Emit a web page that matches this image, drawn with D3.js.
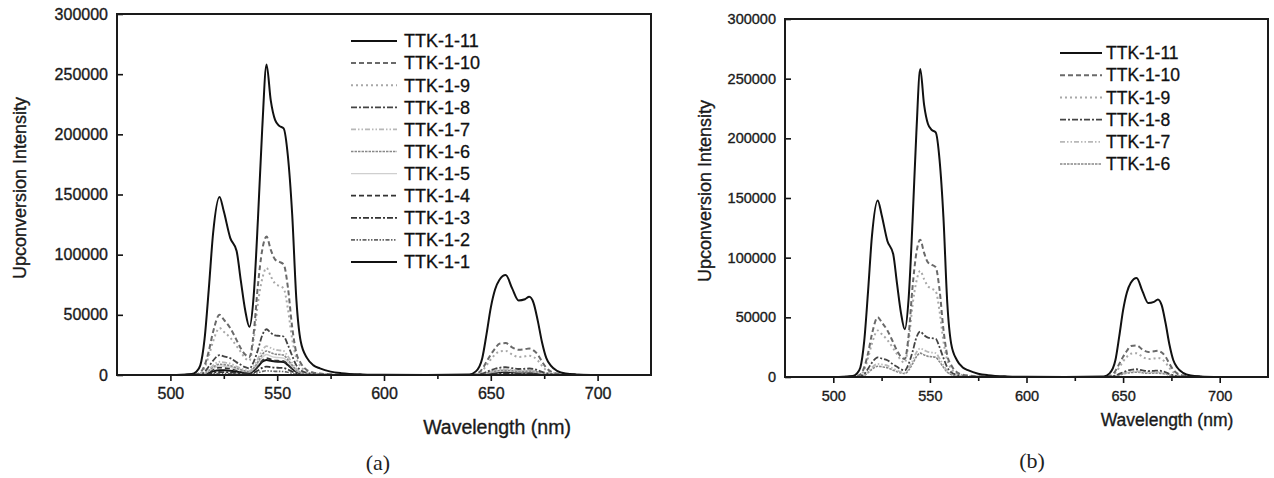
<!DOCTYPE html>
<html>
<head>
<meta charset="utf-8">
<script src="https://cdn.jsdelivr.net/npm/d3@7"></script>
<style>
  body { margin: 0; background: #fff; }
  svg { display: block; font-family: "Liberation Sans", Arial, sans-serif; }
</style>
</head>
<body>
<svg id="fig" width="1274" height="478"></svg>
<script>
// wavelength grid (nm), shared by every spectrum
const wavelength = [
  500, 505, 510, 512, 514, 516, 518, 520, 523, 525,
  528, 531, 533, 535, 537, 539, 541, 543, 545, 547,
  549, 551, 553, 555, 557, 559, 561, 564, 567, 570,
  575, 580, 590, 600, 620, 640, 643, 646, 648, 650,
  652, 654, 657, 660, 663, 666, 668, 670, 672, 674,
  676, 678, 681, 685, 690, 700
];

// upconversion intensity
const ttk11 = [
  0, 200, 800, 2500, 8000, 30000, 72000, 118000, 148000, 136000,
  114000, 103000, 78000, 54000, 40000, 66000, 130000, 205000, 258000, 228000,
  212000, 207000, 205000, 182000, 134000, 62000, 28000, 14000, 8000, 5500,
  2800, 1500, 500, 200, 100, 500, 3000, 14000, 34000, 56000,
  71000, 79000, 83000, 72000, 62000, 63000, 65000, 60000, 45000, 27000,
  14000, 8000, 3500, 1200, 500, 100
];
const ttk10 = [
  0, 100, 300, 600, 2000, 8000, 20000, 36000, 50000, 46000,
  39000, 29000, 22000, 17000, 15000, 35000, 75000, 104000, 115000, 104000,
  96000, 94000, 92000, 73000, 40000, 18000, 10000, 4000, 2000, 1200,
  600, 300, 100, 50, 0, 100, 800, 5000, 11000, 17000,
  22000, 26000, 26500, 23000, 21000, 21500, 22000, 20500, 17000, 11000,
  6000, 3000, 1200, 400, 150, 0
];
const ttk9 = [
  0, 80, 200, 500, 1500, 6000, 16000, 28000, 39000, 36000,
  31000, 24000, 19000, 14000, 12000, 30000, 60000, 80000, 89000, 82000,
  76000, 74000, 72000, 55000, 30000, 14000, 7000, 3000, 1500, 900,
  400, 200, 80, 30, 0, 80, 600, 3500, 8000, 13000,
  17000, 19500, 20000, 17000, 15000, 15500, 16000, 15000, 12000, 7500,
  4000, 2000, 800, 300, 100, 0
];
const ttk8 = [
  0, 50, 100, 200, 600, 2500, 7000, 12000, 16500, 15500,
  14000, 10500, 8500, 6500, 5500, 11000, 21000, 33000, 38000, 35000,
  33000, 32500, 32000, 25000, 16000, 8000, 4000, 1800, 900, 500,
  250, 100, 50, 0, 0, 30, 200, 1200, 2600, 4000,
  5200, 6000, 6500, 5600, 5000, 5200, 5400, 5000, 4000, 2600,
  1500, 700, 300, 100, 50, 0
];
const ttk7 = [
  0, 30, 80, 150, 400, 1600, 4500, 8000, 11000, 10500,
  9500, 7000, 5500, 4200, 3500, 7000, 13500, 20500, 24000, 22500,
  21000, 20500, 20000, 15500, 10000, 5000, 2500, 1100, 600, 300,
  150, 80, 30, 0, 0, 20, 150, 900, 2000, 3000,
  3900, 4500, 4800, 4200, 3800, 3900, 4000, 3700, 3000, 2000,
  1100, 500, 200, 80, 30, 0
];
const ttk6 = [
  0, 25, 60, 120, 320, 1300, 3700, 6500, 9000, 8600,
  7800, 5700, 4500, 3400, 2900, 5700, 11000, 17000, 20000, 18500,
  17300, 17000, 16500, 12700, 8200, 4100, 2000, 900, 500, 250,
  120, 60, 20, 0, 0, 15, 120, 750, 1650, 2500,
  3200, 3700, 4000, 3500, 3100, 3200, 3300, 3000, 2500, 1650,
  900, 400, 160, 60, 20, 0
];
const ttk5 = [
  0, 20, 50, 100, 270, 1100, 3100, 5500, 7500, 7200,
  6600, 4800, 3800, 2900, 2500, 4800, 9400, 14500, 17000, 15700,
  14700, 14400, 14000, 10800, 7000, 3500, 1700, 750, 400, 200,
  100, 50, 20, 0, 0, 12, 100, 640, 1400, 2100,
  2700, 3100, 3400, 3000, 2600, 2700, 2800, 2500, 2100, 1400,
  750, 350, 140, 50, 20, 0
];
const ttk4 = [
  0, 15, 40, 80, 220, 900, 2500, 4500, 6200, 5900,
  5400, 3900, 3100, 2400, 2000, 3900, 7700, 11900, 14000, 12900,
  12000, 11800, 11500, 8900, 5700, 2900, 1400, 600, 330, 160,
  80, 40, 15, 0, 0, 10, 80, 520, 1150, 1700,
  2200, 2500, 2800, 2450, 2150, 2200, 2300, 2050, 1700, 1150,
  600, 290, 110, 40, 15, 0
];
const ttk3 = [
  0, 8, 20, 40, 100, 400, 1100, 1900, 2500, 2400,
  2200, 1700, 1300, 1000, 900, 1900, 3800, 5900, 7000, 6500,
  6100, 6000, 5800, 4500, 2900, 1500, 700, 300, 160, 80,
  40, 20, 8, 0, 0, 5, 40, 260, 560, 850,
  1100, 1250, 1400, 1230, 1080, 1100, 1150, 1030, 850, 560,
  300, 140, 55, 20, 8, 0
];
const ttk2 = [
  0, 4, 10, 20, 50, 200, 550, 950, 1250, 1200,
  1100, 850, 650, 500, 450, 950, 1900, 2950, 3500, 3250,
  3050, 3000, 2900, 2250, 1450, 750, 350, 150, 80, 40,
  20, 10, 4, 0, 0, 3, 20, 130, 280, 430,
  550, 620, 700, 620, 540, 550, 580, 520, 430, 280,
  150, 70, 28, 10, 4, 0
];
const ttk1 = [
  0, 10, 30, 60, 150, 600, 1700, 3000, 4000, 3900,
  3600, 2800, 2200, 1800, 1700, 3500, 7000, 11000, 12500, 11800,
  11200, 11000, 10800, 8300, 5300, 2700, 1300, 550, 300, 150,
  70, 35, 12, 0, 0, 8, 70, 450, 1000, 1500,
  1950, 2250, 2500, 2200, 1950, 2000, 2050, 1850, 1500, 1000,
  550, 260, 100, 35, 12, 0
];

const sampleNames = ["TTK-1-11", "TTK-1-10", "TTK-1-9", "TTK-1-8", "TTK-1-7", "TTK-1-6",
                     "TTK-1-5", "TTK-1-4", "TTK-1-3", "TTK-1-2", "TTK-1-1"];
const sampleValues = [ttk11, ttk10, ttk9, ttk8, ttk7, ttk6, ttk5, ttk4, ttk3, ttk2, ttk1];

const xTicks = [500, 550, 600, 650, 700];
const xMinorTicks = [525, 575, 625, 675];
const yTicks = [0, 50000, 100000, 150000, 200000, 250000, 300000];

// line look of each sample (greyscale print)
const lineStyle = {
  "TTK-1-11": { stroke: "#111", width: 2, dash: null },
  "TTK-1-10": { stroke: "#6a6a6a", width: 2, dash: "5,3" },
  "TTK-1-9":  { stroke: "#a8a8a8", width: 2, dash: "2,3" },
  "TTK-1-8":  { stroke: "#444", width: 1.8, dash: "6,2,2,2" },
  "TTK-1-7":  { stroke: "#b8b8b8", width: 1.8, dash: "5,2,1.5,2,1.5,2" },
  "TTK-1-6":  { stroke: "#888", width: 1.6, dash: "2.5,1" },
  "TTK-1-5":  { stroke: "#cfcfcf", width: 1.4, dash: null },
  "TTK-1-4":  { stroke: "#333", width: 1.8, dash: "5,3" },
  "TTK-1-3":  { stroke: "#333", width: 1.8, dash: "6,2,2,2" },
  "TTK-1-2":  { stroke: "#666", width: 1.6, dash: "4,1.5,1.5,1.5,1.5,1.5" },
  "TTK-1-1":  { stroke: "#111", width: 2, dash: null }
};

const panels = [
  { left: 117, right: 651, top: 14, bottom: 375, count: 11,
    tickFont: 16, tickPad: 7, titleFont: 18,
    xTitle: [497, 427], xTitleFont: 19.5, yTitle: [20, 188],
    legend: { x1: 351, x2: 397, tx: 404, y0: 41, dy: 22.1, font: 18 },
    tag: ["(a)", 378, 462] },
  { left: 785, right: 1268, top: 19, bottom: 377, count: 6,
    tickFont: 14.5, tickPad: 8, titleFont: 18,
    xTitle: [1167, 420], xTitleFont: 17.5, yTitle: [705, 191],
    legend: { x1: 1060, x2: 1102, tx: 1106, y0: 53, dy: 22.2, font: 17.5 },
    tag: ["(b)", 1032, 460] }
];

const svg = d3.select("#fig");

panels.forEach(p => {
  const x = d3.scaleLinear().domain([475, 725]).range([p.left, p.right]);
  const y = d3.scaleLinear().domain([0, 300000]).range([p.bottom, p.top]);
  const g = svg.append("g");

  const names = sampleNames.slice(0, p.count);
  const series = names.map((n, i) => ({
    name: n,
    points: wavelength.map((w, k) => [w, sampleValues[i][k]])
  }));

  const line = d3.line()
    .x(d => x(d[0]))
    .y(d => y(d[1]))
    .curve(d3.curveMonotoneX);

  // weakest first so the strong black curve sits on top
  g.selectAll("path.spec")
    .data(series.slice().reverse())
    .join("path")
      .attr("class", "spec")
      .attr("d", d => line(d.points))
      .attr("fill", "none")
      .attr("stroke", d => lineStyle[d.name].stroke)
      .attr("stroke-width", d => lineStyle[d.name].width)
      .attr("stroke-dasharray", d => lineStyle[d.name].dash)
      .attr("stroke-linejoin", "round");

  // axes
  g.append("g")
    .attr("transform", `translate(0,${p.bottom})`)
    .call(d3.axisBottom(x).tickValues(xTicks).tickSize(6).tickPadding(p.tickPad));
  g.append("g")
    .attr("transform", `translate(0,${p.bottom})`)
    .call(d3.axisBottom(x).tickValues(xMinorTicks).tickSize(4).tickFormat(""));
  g.append("g")
    .attr("transform", `translate(${p.left},0)`)
    .call(d3.axisLeft(y).tickValues(yTicks).tickSizeInner(-6).tickSizeOuter(0)
      .tickPadding(9).tickFormat(d3.format("d")));

  g.selectAll(".domain").remove();
  g.selectAll(".tick line").attr("stroke", "#111").attr("stroke-width", 1.6);
  g.selectAll(".tick text")
    .attr("fill", "#1a1a1a")
    .attr("stroke", "#1a1a1a")
    .attr("stroke-width", 0.35)
    .style("font-size", p.tickFont + "px")
    .style("font-family", "'Liberation Sans', Arial, sans-serif");

  // frame
  g.append("rect")
    .attr("x", p.left).attr("y", p.top)
    .attr("width", p.right - p.left).attr("height", p.bottom - p.top)
    .attr("fill", "none").attr("stroke", "#1a1a1a").attr("stroke-width", 2);

  // titles
  g.append("text")
    .attr("x", p.xTitle[0]).attr("y", p.xTitle[1])
    .attr("text-anchor", "middle").attr("dy", "0.35em")
    .attr("fill", "#1a1a1a").attr("stroke", "#1a1a1a").attr("stroke-width", 0.35)
    .style("font-size", p.xTitleFont + "px")
    .text("Wavelength (nm)");
  g.append("text")
    .attr("transform", `translate(${p.yTitle[0]},${p.yTitle[1]}) rotate(-90)`)
    .attr("text-anchor", "middle").attr("dy", "0.35em")
    .attr("fill", "#1a1a1a").attr("stroke", "#1a1a1a").attr("stroke-width", 0.35)
    .style("font-size", p.titleFont + "px")
    .text("Upconversion Intensity");

  // legend
  const lg = g.selectAll("g.legend")
    .data(names)
    .join("g")
      .attr("class", "legend")
      .attr("transform", (d, i) => `translate(0,${p.legend.y0 + i * p.legend.dy})`);
  lg.append("line")
    .attr("x1", p.legend.x1).attr("x2", p.legend.x2)
    .attr("stroke", d => lineStyle[d].stroke)
    .attr("stroke-width", d => lineStyle[d].width)
    .attr("stroke-dasharray", d => lineStyle[d].dash);
  lg.append("text")
    .attr("x", p.legend.tx).attr("dy", "0.35em")
    .attr("fill", "#111").attr("stroke", "#111").attr("stroke-width", 0.3)
    .style("font-size", p.legend.font + "px")
    .text(d => d);

  // panel tag
  svg.append("text")
    .attr("x", p.tag[1]).attr("y", p.tag[2])
    .attr("text-anchor", "middle").attr("dy", "0.35em")
    .attr("fill", "#222")
    .style("font-family", "'Liberation Serif', 'Times New Roman', serif")
    .style("font-size", "22px")
    .text(p.tag[0]);
});
</script>
</body>
</html>
